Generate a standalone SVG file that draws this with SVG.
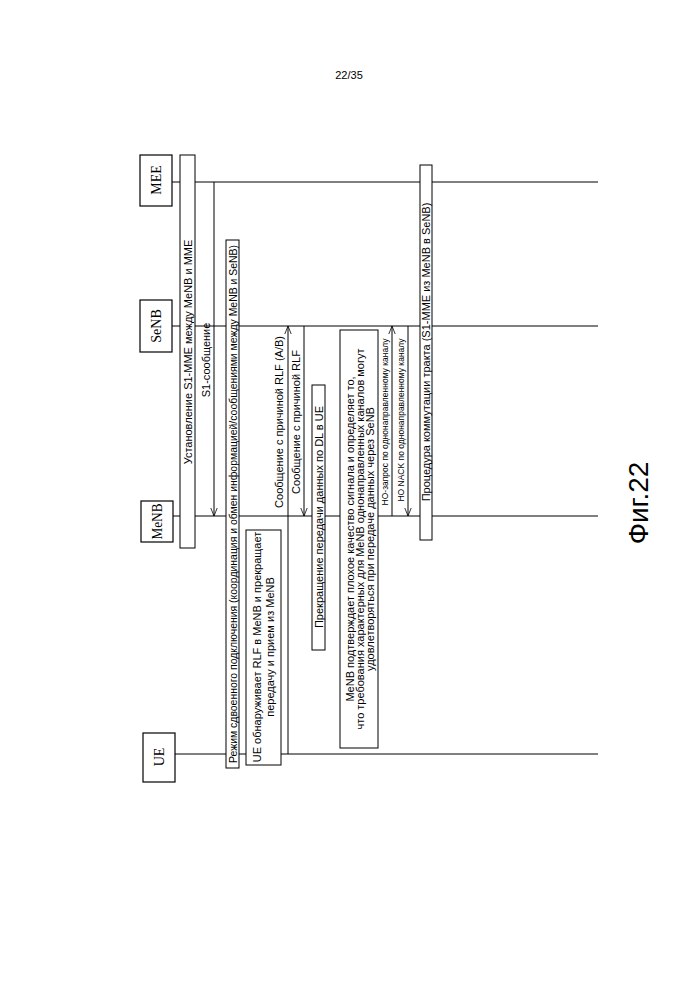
<svg xmlns="http://www.w3.org/2000/svg" width="698" height="999" viewBox="0 0 698 999">
<style>
.n{fill:#fff;stroke:#000;stroke-width:1.2}
.b{fill:#fff;stroke:#000;stroke-width:1}
.l{stroke:#000;stroke-width:1;fill:none}
.t{font-family:"Liberation Sans",Arial,sans-serif;font-size:11px;fill:#000;text-anchor:middle;dominant-baseline:central}
.s{font-size:8.5px}
.nt{font-family:"Liberation Serif",serif;font-size:14px;fill:#000;text-anchor:middle;dominant-baseline:central}
</style>
<defs><marker id="a" viewBox="0 0 10 10" refX="10" refY="5" markerWidth="8" markerHeight="8" orient="auto"><path d="M0,1 L10,5 L0,9" fill="none" stroke="#000"/></marker></defs>
<rect width="698" height="999" fill="#fff"/>
<text x="349" y="75" class="t">22/35</text>
<g id="lifelines">
<line class="l" x1="172" y1="182" x2="598" y2="182"/>
<line class="l" x1="172" y1="326" x2="598" y2="326"/>
<line class="l" x1="173" y1="516" x2="598" y2="516"/>
<line class="l" x1="175" y1="754" x2="598" y2="754"/>
</g>
<g id="MME"><rect class="n" x="140" y="155" width="32" height="51"/><text class="nt" transform="translate(156,180) rotate(-90)">MEE</text></g>
<g id="SeNB"><rect class="n" x="140" y="300" width="32" height="52"/><text class="nt" transform="translate(156,326) rotate(-90)">SeNB</text></g>
<g id="MeNB"><rect class="n" x="141" y="501" width="32" height="41"/><text class="nt" transform="translate(157,521.5) rotate(-90)" textLength="36" lengthAdjust="spacingAndGlyphs">MeNB</text></g>
<g id="UE"><rect class="n" x="143" y="733" width="32" height="49"/><text class="nt" transform="translate(159,757) rotate(-90)">UE</text></g>
<g id="s1setup"><rect class="b" x="180" y="155" width="15" height="393"/><text class="t" transform="translate(188,352) rotate(-90)">Установление S1-MME между MeNB и MME</text></g>
<g id="dual"><rect class="b" x="226" y="240" width="13" height="528"/><text class="t" transform="translate(232.5,504) rotate(-90)" textLength="518" lengthAdjust="spacingAndGlyphs">Режим сдвоенного подключения (координация и обмен информацией/сообщениями между MeNB и SeNB)</text></g>
<g id="uedetect"><rect class="b" x="246" y="530" width="35" height="235"/><text class="t" transform="translate(257,647) rotate(-90)">UE обнаруживает RLF в MeNB и прекращает</text><text class="t" transform="translate(270,647) rotate(-90)">передачу и прием из MeNB</text></g>
<g id="stopdl"><rect class="b" x="312" y="385" width="13" height="265"/><text class="t" transform="translate(318.5,517) rotate(-90)">Прекращение передачи данных по DL в UE</text></g>
<g id="confirm"><rect class="b" x="340" y="330" width="38" height="418"/>
<text class="t" transform="translate(350,539) rotate(-90)">MeNB подтверждает плохое качество сигнала и определяет то,</text>
<text class="t" transform="translate(360,539) rotate(-90)">что требования характерных для MeNB однонаправленных каналов могут</text>
<text class="t" transform="translate(370,539) rotate(-90)">удовлетворяться при передаче данных через SeNB</text></g>
<g id="pathswitch"><rect class="b" x="420" y="165" width="12" height="375"/><text class="t" transform="translate(426,352) rotate(-90)">Процедура коммутации тракта (S1-MME из MeNB в SeNB)</text></g>
<g id="connectors">
<line class="l" x1="214" y1="182" x2="214" y2="516" marker-end="url(#a)"/>
<line class="l" x1="288" y1="754" x2="288" y2="326" marker-end="url(#a)"/>
<line class="l" x1="304" y1="326" x2="304" y2="516" marker-end="url(#a)"/>
<line class="l" x1="392" y1="516" x2="392" y2="326" marker-end="url(#a)"/>
<line class="l" x1="408" y1="326" x2="408" y2="516" marker-end="url(#a)"/>
<text class="t" transform="translate(206,360) rotate(-90)">S1-сообщение</text>
<text class="t" transform="translate(279,422) rotate(-90)">Сообщение с причиной RLF (A/B)</text>
<text class="t" transform="translate(296,422) rotate(-90)">Сообщение с причиной RLF</text>
<text class="t s" transform="translate(385,422) rotate(-90)">HO-запрос по однонаправленному каналу</text>
<text class="t s" transform="translate(401,420) rotate(-90)">HO NACK по однонаправленному каналу</text>
</g>
<text transform="translate(638,503) rotate(-90)" style="font-family:'Liberation Sans',Arial,sans-serif;font-size:28px;text-anchor:middle;dominant-baseline:central">Фиг.22</text>
</svg>
